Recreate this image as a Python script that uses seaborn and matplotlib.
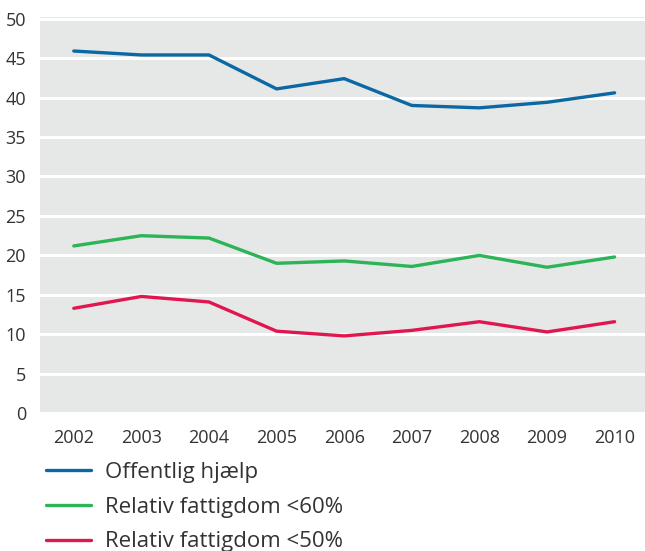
import matplotlib
matplotlib.use("Agg")
import matplotlib.pyplot as plt
import seaborn as sns
import pandas as pd

years = [2002, 2003, 2004, 2005, 2006, 2007, 2008, 2009, 2010]
offentlig_hjaelp = [45.9, 45.4, 45.4, 41.1, 42.4, 39.0, 38.7, 39.4, 40.6]
relativ_60 = [21.2, 22.5, 22.2, 19.0, 19.3, 18.6, 20.0, 18.5, 19.8]
relativ_50 = [13.3, 14.8, 14.1, 10.4, 9.8, 10.5, 11.6, 10.3, 11.6]
series_names = ["Offentlig hjælp", "Relativ fattigdom <60%", "Relativ fattigdom <50%"]
colors = ["#0b68a3", "#2db457", "#e0174f"]
y_ticks = [0, 5, 10, 15, 20, 25, 30, 35, 40, 45, 50]

df = pd.DataFrame({
    "År": years * 3,
    "Andel": offentlig_hjaelp + relativ_60 + relativ_50,
    "Serie": [series_names[0]] * len(years) + [series_names[1]] * len(years)
             + [series_names[2]] * len(years),
})

sns.set_style("darkgrid", {"axes.facecolor": "#e6e8e8", "grid.color": "white"})
plt.rcParams["font.family"] = ["Open Sans", "DejaVu Sans"]

fig = plt.figure(figsize=(6.45, 5.51), dpi=100)
ax = fig.add_axes([0.062, 0.25, 0.938, 0.719])

sns.lineplot(data=df, x="År", y="Andel", hue="Serie", hue_order=series_names,
             palette=colors, linewidth=2.4, ax=ax, legend=False)

ax.set_xlim(2001.5, 2010.45)
ax.set_ylim(0, 50.2)
ax.set_xticks(years)
ax.set_xticklabels([str(y) for y in years])
ax.set_yticks(y_ticks)
ax.grid(axis="x", visible=False)
ax.grid(axis="y", color="white", linewidth=2.2)
ax.set_xlabel("")
ax.set_ylabel("")
for s in ax.spines.values():
    s.set_visible(False)

ax.tick_params(axis="x", direction="in", length=8, width=2, color="white",
               labelsize=13, labelcolor="#333333", pad=11)
ax.tick_params(axis="y", length=0, labelsize=13, labelcolor="#333333", pad=10)
for lab in ax.get_yticklabels():
    lab.set_horizontalalignment("right")

handles = [plt.Line2D([], [], color=c, linewidth=2.4) for c in colors]
fig.legend(handles, series_names, loc="upper left", bbox_to_anchor=(0.072, 0.162),
           frameon=False, fontsize=16, handlelength=2.0, handletextpad=0.65,
           labelspacing=0.62, labelcolor="#333333", borderaxespad=0, borderpad=0)

fig.savefig("out.png", dpi=100)
